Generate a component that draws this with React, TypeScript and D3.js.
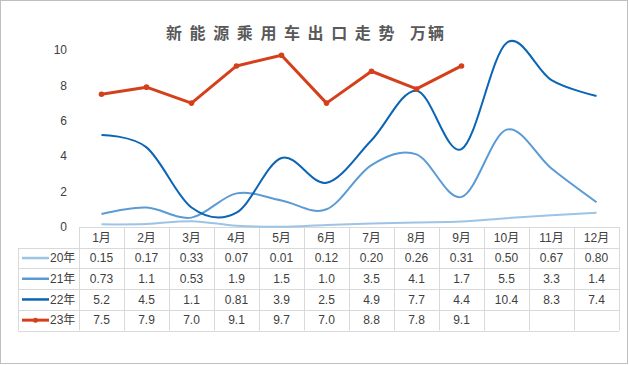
import React from "react";
import * as d3 from "d3";

const months = ["1月", "2月", "3月", "4月", "5月", "6月", "7月", "8月", "9月", "10月", "11月", "12月"];
const seriesNames = ["20年", "21年", "22年", "23年"];
const s20 = [0.15, 0.17, 0.33, 0.07, 0.01, 0.12, 0.2, 0.26, 0.31, 0.5, 0.67, 0.8];
const s21 = [0.73, 1.1, 0.53, 1.9, 1.5, 1.0, 3.5, 4.1, 1.7, 5.5, 3.3, 1.4];
const s22 = [5.2, 4.5, 1.1, 0.81, 3.9, 2.5, 4.9, 7.7, 4.4, 10.4, 8.3, 7.4];
const s23 = [7.5, 7.9, 7.0, 9.1, 9.7, 7.0, 8.8, 7.8, 9.1];
const labels20 = ["0.15", "0.17", "0.33", "0.07", "0.01", "0.12", "0.20", "0.26", "0.31", "0.50", "0.67", "0.80"];
const labels21 = ["0.73", "1.1", "0.53", "1.9", "1.5", "1.0", "3.5", "4.1", "1.7", "5.5", "3.3", "1.4"];
const labels22 = ["5.2", "4.5", "1.1", "0.81", "3.9", "2.5", "4.9", "7.7", "4.4", "10.4", "8.3", "7.4"];
const labels23 = ["7.5", "7.9", "7.0", "9.1", "9.7", "7.0", "8.8", "7.8", "9.1"];
const yTicks = [0, 2, 4, 6, 8, 10];
const titleMain = "新能源乘用车出口走势";
const titleUnit = "万辆";

const colors = ["#9dc3e6", "#5b9bd5", "#0b64b4", "#d4401c"];
const widths = [2, 2, 2, 3];

export default function App() {
  const W = 629, H = 365;
  const tableLeft = 79, colW = 45.0, legendLeft = 18;
  const headerTop = 227, rowH = 20.7;
  const x = d3.scaleBand<string>().domain(months).range([tableLeft, tableLeft + colW * 12]);
  const y = d3.scaleLinear().domain([0, 10]).range([227, 50]);
  const cx = (m: string) => (x(m) as number) + x.bandwidth() / 2;

  const smooth = d3.line<number>().x((_, i) => cx(months[i])).y((d) => y(d)).curve(d3.curveCatmullRom.alpha(0));
  const straight = d3.line<number>().x((_, i) => cx(months[i])).y((d) => y(d));

  const data = [s20, s21, s22, s23];
  const tlabels = [labels20, labels21, labels22, labels23];
  const font = "'Liberation Sans', 'Noto Sans CJK SC', sans-serif";
  const tableRight = tableLeft + colW * 12;
  const tableBottom = headerTop + rowH * 5;
  const grid = "#d9d9d9";

  return (
    <svg width={W} height={H} style={{ position: "absolute", left: 0, top: 0 }} fontFamily={font}>
      <rect x={0} y={0} width={W} height={H} fill="#fff" />
      <rect x={0.5} y={0.5} width={627} height={363} fill="none" stroke="#bfbfbf" />
      <g fontSize={16} fill="#595959" fontWeight="bold" fontFamily="'Noto Sans CJK SC', sans-serif">
        <text x={166} y={39} letterSpacing={7.6}>{titleMain}</text>
        <text x={410} y={39} letterSpacing={2}>{titleUnit}</text>
      </g>
      {yTicks.map((t) => (
        <text key={t} x={67} y={y(t)} dy="0.35em" textAnchor="end" fontSize={12} fill="#404040">{t}</text>
      ))}
      {/* table grid */}
      <g stroke={grid} strokeWidth={1}>
        <line x1={tableLeft} x2={tableRight} y1={headerTop + 0.5} y2={headerTop + 0.5} />
        {d3.range(1, 6).map((r) => (
          <line key={r} x1={legendLeft} x2={tableRight} y1={Math.round(headerTop + rowH * r) + 0.5} y2={Math.round(headerTop + rowH * r) + 0.5} />
        ))}
        <line x1={legendLeft + 0.5} x2={legendLeft + 0.5} y1={headerTop + rowH} y2={tableBottom} />
        {d3.range(0, 13).map((c) => (
          <line key={c} x1={Math.round(tableLeft + colW * c) + 0.5} x2={Math.round(tableLeft + colW * c) + 0.5} y1={headerTop} y2={tableBottom} />
        ))}
      </g>
      {months.map((m) => (
        <text key={m} x={cx(m)} y={headerTop + rowH / 2} dy="0.35em" textAnchor="middle" fontSize={12} fill="#404040">{m}</text>
      ))}
      {tlabels.map((row, r) =>
        row.map((v, i) => (
          <text key={r + "-" + i} x={cx(months[i])} y={headerTop + rowH * (r + 1.5)} dy="0.35em" textAnchor="middle" fontSize={12} fill="#404040">{v}</text>
        ))
      )}
      {seriesNames.map((n, r) => {
        const yy = headerTop + rowH * (r + 1.5);
        return (
          <g key={n}>
            <line x1={22} x2={49} y1={yy} y2={yy} stroke={colors[r]} strokeWidth={widths[r] + (r === 3 ? 0 : 0.5)} />
            {r === 3 && <circle cx={35.5} cy={yy} r={2.5} fill={colors[r]} />}
            <text x={50} y={yy} dy="0.35em" fontSize={12} fill="#404040">{n}</text>
          </g>
        );
      })}
      {/* series */}
      {data.slice(0, 3).map((d, k) => (
        <path key={k} d={smooth(d) as string} fill="none" stroke={colors[k]} strokeWidth={widths[k]} />
      ))}
      <path d={straight(s23) as string} fill="none" stroke={colors[3]} strokeWidth={3} strokeLinejoin="round" />
      {s23.map((v, i) => (
        <circle key={i} cx={cx(months[i])} cy={y(v)} r={2.8} fill={colors[3]} />
      ))}
    </svg>
  );
}
